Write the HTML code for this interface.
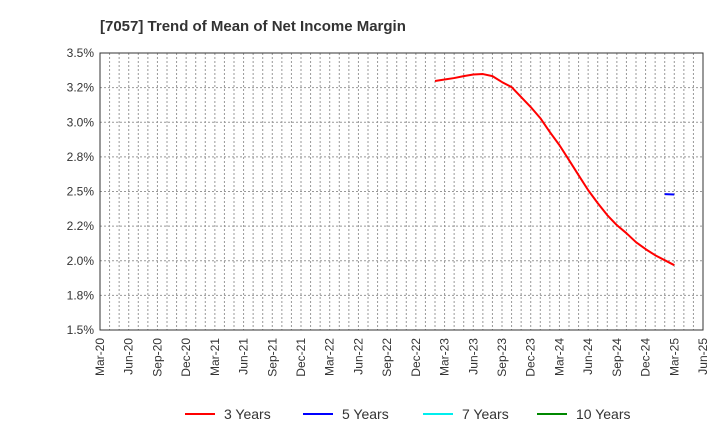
<!DOCTYPE html>
<html><head><meta charset="utf-8"><style>
body{margin:0;background:#fff;font-family:"Liberation Sans",Arial,sans-serif}
svg text{font-family:"Liberation Sans",Arial,sans-serif}
</style></head><body>
<svg id="c" width="720" height="440">
<text x="100" y="31" font-size="15" font-weight="bold" fill="#333">[7057]  Trend of Mean of Net Income Margin</text>
<g id="grid"></g><g id="axes"></g><g id="series"></g><g id="legend"></g>
</svg>
<script>
const yTicks=[1.5,1.75,2.0,2.25,2.5,2.75,3.0,3.25,3.5];
const yTickLabels=["1.5%","1.8%","2.0%","2.2%","2.5%","2.8%","3.0%","3.2%","3.5%"];
const xTickLabels=["Mar-20","Jun-20","Sep-20","Dec-20","Mar-21","Jun-21","Sep-21","Dec-21","Mar-22","Jun-22","Sep-22","Dec-22","Mar-23","Jun-23","Sep-23","Dec-23","Mar-24","Jun-24","Sep-24","Dec-24","Mar-25","Jun-25"];
const s3Start=35; // month index from Mar-20 (Feb-23)
const s3Values=[3.298,3.309,3.319,3.333,3.345,3.348,3.333,3.290,3.254,3.182,3.110,3.030,2.929,2.835,2.727,2.618,2.510,2.416,2.329,2.257,2.199,2.134,2.084,2.040,2.004,1.968];
const s5Start=59;
const s5Values=[2.481,2.478];
const NS="http://www.w3.org/2000/svg";
const L=100,R=703,T=53,B=330;
const xM=m=>L+(R-L)*m/63;
const yV=v=>B-(B-T)*(v-1.5)/2.0;
function mk(t,a,p){const e=document.createElementNS(NS,t);for(const k in a)e.setAttribute(k,a[k]);p.appendChild(e);return e;}
const g=document.getElementById('grid'),ax=document.getElementById('axes'),se=document.getElementById('series'),lg=document.getElementById('legend');
for(let m=1;m<63;m++){const l=mk('line',{x1:xM(m),x2:xM(m),y1:T,y2:B,stroke:'#999','stroke-dasharray':'2,2','stroke-width':1},g);

}
yTicks.forEach((v,i)=>{if(i>0&&i<yTicks.length-1){const l=mk('line',{x1:L,x2:R,y1:yV(v),y2:yV(v),stroke:'#999','stroke-dasharray':'2,2'},g);

}
const t=mk('text',{x:L-6,y:yV(v)+4,'text-anchor':'end','font-size':12,fill:'#333'},ax);t.textContent=yTickLabels[i];

});
xTickLabels.forEach((s,i)=>{const x=xM(i*3);const t=mk('text',{x:x+4,y:B+8,'text-anchor':'end','font-size':12,fill:'#333',transform:`rotate(-90 ${x+4} ${B+8})`},ax);t.textContent=s;

});
const fr=mk('rect',{x:L,y:T,width:R-L,height:B-T,fill:'none',stroke:'#333','stroke-width':1},ax);


function line(start,vals,col,name){const p=mk('polyline',{points:vals.map((v,i)=>xM(start+i)+','+yV(v)).join(' '),fill:'none',stroke:col,'stroke-width':2,'stroke-linejoin':'round'},se);

}
line(s3Start,s3Values,'#f00','series-3-years');
line(s5Start,s5Values,'#00f','series-5-years');
const leg=[["3 Years","#f00",185],["5 Years","#00f",303],["7 Years","#0ee",423],["10 Years","#080",537]];
leg.forEach(([n,c,x])=>{const gg=mk('g',{},lg);


mk('line',{x1:x,x2:x+30,y1:414,y2:414,stroke:c,'stroke-width':2},gg);
const t=mk('text',{x:x+39,y:419,'font-size':14,fill:'#333'},gg);t.textContent=n;});
</script>
</body></html>
